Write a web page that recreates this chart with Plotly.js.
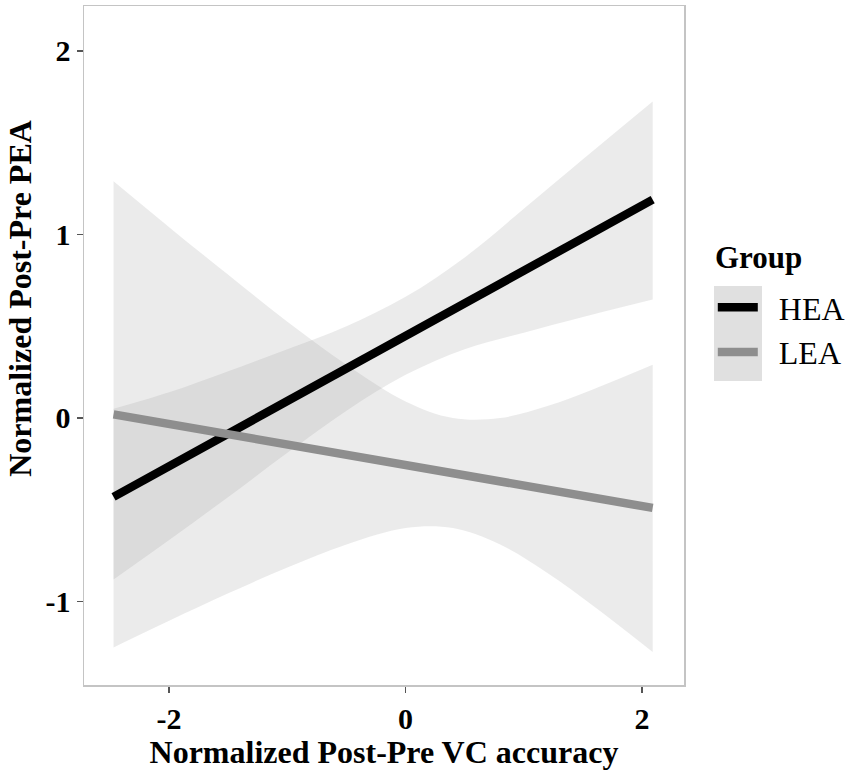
<!DOCTYPE html>
<html>
<head>
<meta charset="utf-8">
<script src="https://cdn.plot.ly/plotly-3.0.1.min.js"></script>
<style>
  html, body { margin: 0; padding: 0; background: #fff; }
  #chart { width: 851px; height: 774px; }
</style>
</head>
<body>
<div id="chart"></div>
<script>
// values (fit lines and 95% bands per group)
let groups = ['HEA', 'LEA'];

let heaX = [-2.47, -2, -1.5, -1, -0.5, 0, 0.5, 1, 1.5, 2.09];
let heaFit = [-0.43, -0.263, -0.086, 0.092, 0.27, 0.447, 0.625, 0.802, 0.98, 1.19];
let heaUpper = [0.05, 0.14, 0.255, 0.375, 0.5, 0.66, 0.875, 1.14, 1.41, 1.725];
let heaLower = [-0.88, -0.665, -0.43, -0.19, 0.04, 0.235, 0.375, 0.465, 0.55, 0.645];

let leaX = [-2.47, -2, -1.5, -1, -0.5, 0, 0.4, 0.8, 1.2, 1.6, 2.09];
let leaFit = [0.02, -0.033, -0.089, -0.145, -0.201, -0.257, -0.301, -0.346, -0.391, -0.436, -0.49];
let leaUpper = [1.29, 1.04, 0.78, 0.525, 0.29, 0.09, 0.0, 0.0, 0.065, 0.16, 0.29];
let leaLower = [-1.25, -1.105, -0.955, -0.815, -0.69, -0.6, -0.6, -0.69, -0.845, -1.03, -1.275];

let xTickVals = [-2, 0, 2];
let xTickText = ['-2', '0', '2'];
let yTickVals = [-1, 0, 1, 2];
let yTickText = ['-1', '0', '1', '2'];

let serif = 'Liberation Serif, Times New Roman, serif';
let bandFill = 'rgba(153,153,153,0.2)';

function band(x, lo, hi) {
  return [
    { x: x, y: lo, mode: 'lines', line: { width: 0, shape: 'spline' },
      showlegend: false, hoverinfo: 'skip' },
    { x: x, y: hi, mode: 'lines', line: { width: 0, shape: 'spline' },
      fill: 'tonexty', fillcolor: bandFill, showlegend: false, hoverinfo: 'skip' }
  ];
}

let traces = [].concat(
  band(heaX, heaLower, heaUpper),
  band(leaX, leaLower, leaUpper),
  [
    { x: heaX, y: heaFit, name: '\u2002' + groups[0], legendgroup: 'g1', mode: 'lines',
      line: { color: '#000000', width: 8.5 } },
    { x: leaX, y: leaFit, name: '\u2002' + groups[1], legendgroup: 'g2', mode: 'lines',
      line: { color: '#8e8e8e', width: 8.5 } }
  ]
);

let axisBase = {
  showgrid: false,
  zeroline: false,
  showline: true,
  mirror: true,
  linecolor: '#c4c4c4',
  linewidth: 1.5,
  ticks: 'outside',
  ticklen: 6,
  tickwidth: 1.5,
  tickcolor: '#555',
  tickfont: { family: serif, size: 30, color: '#000', weight: 'bold' }
};

let layout = {
  width: 851,
  height: 774,
  margin: { l: 84, r: 167, t: 6, b: 89, autoexpand: false },
  paper_bgcolor: '#fff',
  plot_bgcolor: '#fff',
  showlegend: true,
  xaxis: Object.assign({}, axisBase, {
    range: [-2.72, 2.355],
    tickvals: xTickVals,
    ticktext: xTickText,
    title: { text: 'Normalized Post-Pre VC accuracy', standoff: 4,
      font: { family: serif, size: 32, color: '#000', weight: 'bold' } }
  }),
  yaxis: Object.assign({}, axisBase, {
    range: [-1.455, 2.245],
    tickvals: yTickVals,
    ticktext: yTickText
  }),
  annotations: [{
    text: 'Normalized Post-Pre PEA',
    xref: 'paper', yref: 'paper',
    x: -0.107, y: 0.57,
    xanchor: 'center', yanchor: 'middle',
    textangle: -90, showarrow: false,
    font: { family: serif, size: 32, color: '#000', weight: 'bold' }
  }, {
    text: 'Group',
    xref: 'paper', yref: 'paper',
    x: 1.049, y: 0.630,
    xanchor: 'left', yanchor: 'middle',
    showarrow: false,
    font: { family: serif, size: 31, color: '#000', weight: 'bold' }
  }],
  shapes: [{
    type: 'rect', xref: 'paper', yref: 'paper',
    x0: 1.05, x1: 1.13, y0: 0.4477, y1: 0.5876,
    fillcolor: '#e0e0e0', line: { width: 0 }, layer: 'below'
  }],
  legend: {
    x: 1.048, xanchor: 'left',
    y: 0.5964, yanchor: 'top',
    bgcolor: 'rgba(0,0,0,0)',
    traceorder: 'normal',
    tracegroupgap: 9,
    itemwidth: 40,
    font: { family: serif, size: 32, color: '#000' }
  }
};

Plotly.newPlot('chart', traces, layout, { displayModeBar: false, staticPlot: true });
</script>
</body>
</html>
